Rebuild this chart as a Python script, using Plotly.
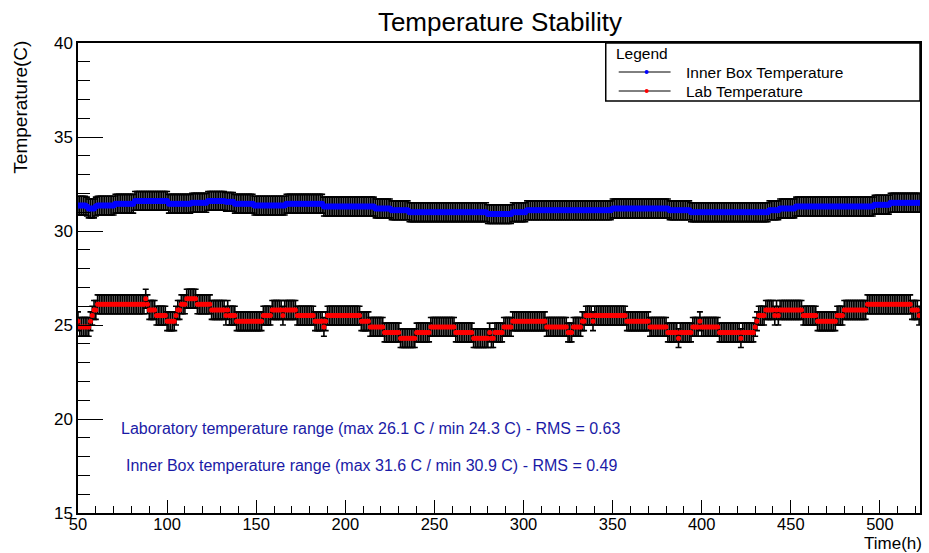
import plotly.graph_objects as go

# Hourly readings stored as runs: (first hour of run, temperature in C).
# Each run lasts until the next run starts; the last one ends at LAST_HOUR.
LAST_HOUR = 522

LAB_RUNS = [
    (50, 25.2), (51, 24.9), (57, 25.2), (58, 25.5), (59, 25.8), (61, 26.1),
    (88, 26.4), (89, 26.1), (90, 25.8), (94, 25.5), (100, 25.2), (105, 25.5),
    (106, 25.8), (108, 26.1), (111, 26.4), (117, 26.1), (125, 25.8), (133, 25.5),
    (134, 25.8), (135, 25.5), (139, 25.2), (154, 25.5), (159, 25.8), (165, 25.5),
    (166, 25.8), (173, 25.5), (183, 25.2), (188, 24.9), (189, 25.2), (190, 25.5),
    (209, 25.2), (214, 24.9), (222, 24.6), (231, 24.3), (240, 24.6), (248, 24.9),
    (262, 24.6), (272, 24.3), (281, 24.6), (282, 24.3), (284, 24.6), (289, 24.9),
    (294, 25.2), (313, 24.9), (325, 24.6), (328, 24.9), (333, 25.2), (335, 25.5),
    (339, 25.2), (340, 25.5), (358, 25.2), (371, 24.9), (381, 24.6), (387, 24.3),
    (388, 24.6), (395, 24.9), (399, 25.2), (400, 24.9), (410, 24.6), (422, 24.3),
    (423, 24.6), (430, 24.9), (431, 25.2), (432, 25.5), (436, 25.8), (441, 25.5),
    (442, 25.8), (443, 25.5), (444, 25.8), (457, 25.5), (465, 25.2), (476, 25.5),
    (480, 25.8), (493, 26.1), (518, 25.8), (522, 25.5),
]

BOX_RUNS = [
    (50, 31.35), (55, 31.3), (56, 31.2), (60, 31.3), (61, 31.35), (71, 31.45),
    (82, 31.6), (101, 31.45), (114, 31.5), (123, 31.6), (133, 31.55), (138, 31.45),
    (149, 31.35), (167, 31.45), (188, 31.3), (217, 31.2), (226, 31.1), (236, 31.0),
    (280, 30.9), (294, 31.0), (302, 31.1), (350, 31.2), (382, 31.1), (394, 31.0),
    (438, 31.1), (444, 31.2), (453, 31.3), (497, 31.4), (506, 31.5),
]

SENSOR_ERROR = 0.5  # C, drawn as symmetric error bars

X_RANGE = [50, 522.5]
Y_RANGE = [15, 40]
X_TICKS = [50, 100, 150, 200, 250, 300, 350, 400, 450, 500]
Y_TICKS = [15, 20, 25, 30, 35, 40]

LAB_NOTE = "Laboratory temperature range (max 26.1 C / min 24.3 C) - RMS = 0.63"
BOX_NOTE = "Inner Box temperature range (max 31.6 C / min 30.9 C) - RMS = 0.49"


def expand(runs, last_hour):
    hours, temps = [], []
    ends = [start for start, _ in runs[1:]] + [last_hour + 1]
    for (start, temp), stop in zip(runs, ends):
        for h in range(start, stop):
            hours.append(h)
            temps.append(temp)
    return hours, temps


lab_h, lab_t = expand(LAB_RUNS, LAST_HOUR)
box_h, box_t = expand(BOX_RUNS, LAST_HOUR)

W, H = 929, 553
ML, MR, MT, MB = 78, 7, 43, 40
PW, PH = W - ML - MR, H - MT - MB


def px(x):
    return (x - ML) / PW


def py(y):
    return (H - MB - y) / PH


FONT = "Liberation Sans, Arial, Helvetica, sans-serif"


def series(hours, temps, colour, name, size):
    return go.Scatter(
        x=hours, y=temps, name=name, mode="lines+markers",
        line=dict(color="black", width=1),
        marker=dict(color=colour, size=size, line=dict(width=0)),
        error_y=dict(type="constant", value=SENSOR_ERROR, color="black",
                     thickness=1.6, width=3),
        showlegend=False,
    )


fig = go.Figure()
fig.add_trace(series(box_h, box_t, "#0000ff", "Inner Box Temperature", 6))
fig.add_trace(series(lab_h, lab_t, "#ff0000", "Lab Temperature", 5))

shapes = []
annotations = []

# Legend box drawn in the ROOT style
shapes.append(dict(type="rect", xref="paper", yref="paper",
                   x0=px(607), x1=px(922), y0=py(101), y1=py(43),
                   line=dict(color="black", width=1.5), fillcolor="white",
                   layer="above"))
annotations.append(dict(xref="paper", yref="paper", x=px(615), y=py(53),
                        text="Legend", showarrow=False, xanchor="left",
                        yanchor="middle", font=dict(size=15.5, color="black")))
for label, colour, ypix in [("Inner Box Temperature", "#0000ff", 72),
                            ("Lab Temperature", "#ff0000", 91)]:
    shapes.append(dict(type="line", xref="paper", yref="paper",
                       x0=px(620), x1=px(672), y0=py(ypix), y1=py(ypix),
                       line=dict(color="black", width=1), layer="above"))
    shapes.append(dict(type="circle", xref="paper", yref="paper",
                       x0=px(646), x1=px(650), y0=py(ypix + 2), y1=py(ypix - 2),
                       line=dict(color=colour, width=0), fillcolor=colour,
                       layer="above"))
    annotations.append(dict(xref="paper", yref="paper", x=px(685), y=py(ypix),
                            text=label, showarrow=False, xanchor="left",
                            yanchor="middle", font=dict(size=15.5, color="black")))

# Summary notes inside the frame
annotations.append(dict(xref="x", yref="y", x=72.8, y=19.5, text=LAB_NOTE,
                        showarrow=False, xanchor="left", yanchor="middle",
                        font=dict(size=16, color="#1a1aa6")))
annotations.append(dict(xref="x", yref="y", x=75.6, y=17.55, text=BOX_NOTE,
                        showarrow=False, xanchor="left", yanchor="middle",
                        font=dict(size=16, color="#1a1aa6")))

# Axis titles placed ROOT-style (right-aligned at the axis ends)
annotations.append(dict(xref="paper", yref="paper", x=px(20), y=py(39),
                        text="Temperature(C)", showarrow=False, textangle=-90,
                        xanchor="center", yanchor="top",
                        font=dict(size=19, color="black")))
annotations.append(dict(xref="paper", yref="paper", x=px(926), y=py(555),
                        text="Time(h)", showarrow=False, xanchor="right",
                        yanchor="bottom", font=dict(size=17, color="black")))

fig.update_layout(
    width=W, height=H,
    margin=dict(l=ML, r=MR, t=MT, b=MB),
    paper_bgcolor="white", plot_bgcolor="white",
    font=dict(family=FONT, color="black"),
    title=dict(text="Temperature Stability", x=500 / W, xanchor="center",
               y=1 - 22 / H, yanchor="middle", font=dict(size=26)),
    showlegend=False,
    shapes=shapes,
    annotations=annotations,
)

fig.update_xaxes(
    range=X_RANGE, tickvals=X_TICKS, ticks="inside", ticklen=13, tickwidth=1.2,
    tickcolor="black", showline=True, linecolor="black", linewidth=1.5,
    mirror=True, showgrid=False, zeroline=False,
    tickfont=dict(size=16.5), ticklabelstandoff=-5,
    minor=dict(dtick=10, ticks="inside", ticklen=7, tickcolor="black",
               tickwidth=1.2, showgrid=False),
)
fig.update_yaxes(
    range=Y_RANGE, tickvals=Y_TICKS, ticks="inside", ticklen=25, tickwidth=1.2,
    tickcolor="black", showline=True, linecolor="black", linewidth=1.5,
    mirror=True, showgrid=False, zeroline=False,
    tickfont=dict(size=17),
    minor=dict(dtick=1, ticks="inside", ticklen=12, tickcolor="black",
               tickwidth=1.2, showgrid=False),
)

fig.write_html("out.html")
